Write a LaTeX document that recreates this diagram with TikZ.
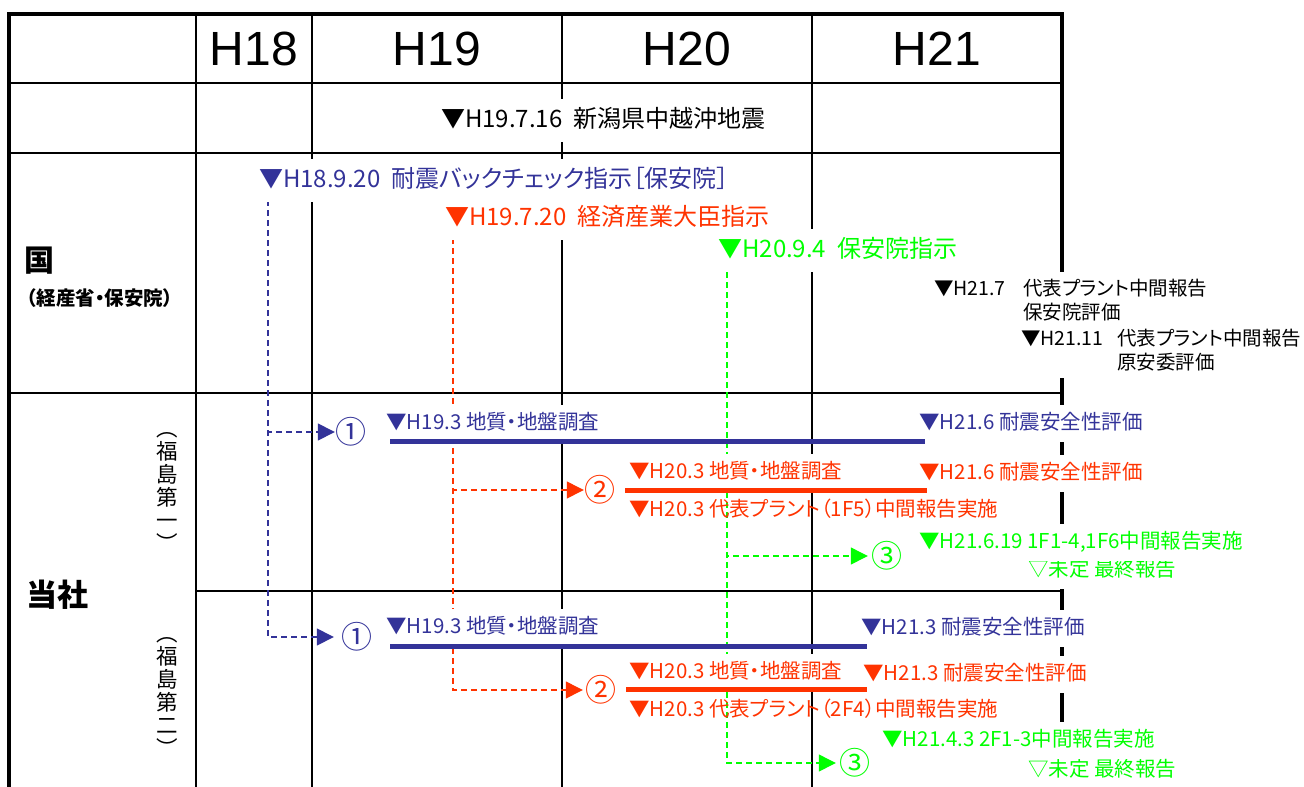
\documentclass[tikz,border=0pt]{standalone}
\usepackage{fontspec}
\setmainfont{Liberation Sans}
\newfontfamily\jp[RawFeature={+palt}]{Noto Sans CJK JP}
\usetikzlibrary{arrows.meta}
\definecolor{cblue}{HTML}{333399}
\definecolor{cred}{HTML}{FF3300}
\definecolor{cgreen}{HTML}{00FF00}
\begin{document}
\begin{tikzpicture}[x=1pt,y=-1pt,
  fr/.style={line width=4pt,line cap=rect},
  colline/.style={line width=2pt},
  rowline/.style={line width=2.5pt},
  hdr/.style={font=\fontsize{48}{48}\selectfont},
  tA/.style={anchor=west,font=\jp\fontsize{24}{24}\selectfont,text height=19pt,text depth=5pt,inner ysep=9.5pt,inner xsep=1pt},
  tB/.style={anchor=west,font=\jp\fontsize{20.5}{20.5}\selectfont,text height=16pt,text depth=4pt,inner ysep=8.5pt,inner xsep=1pt},
  tC/.style={anchor=west,align=left,font=\jp\fontsize{19.5}{24}\selectfont,inner ysep=7pt,inner xsep=1pt,fill=white},
  wf/.style={fill=white},
  vtxt/.style={align=center,font=\jp\fontsize{21.5}{23}\selectfont,inner sep=0pt},
  circ/.style={font=\jp\fontsize{31}{31}\selectfont,inner sep=0pt},
  dsh/.style={dash pattern=on 6pt off 4pt},
  tipA/.style={-{Triangle[length=17pt,width=17pt]}},
  bconn/.style={draw=cblue,line width=1.5pt,dsh,tipA},
  rconn/.style={draw=cred,line width=1.3pt,dsh,tipA},
  gconn/.style={draw=cgreen,line width=1.2pt,dsh,tipA},
  bbar/.style={draw=cblue,line width=5pt},
  rbar/.style={draw=cred,line width=5pt}
]
\useasboundingbox (0,0) rectangle (1304,787);
% grid
\draw[rowline] (9,83) -- (1062,83);
\draw[rowline] (9,153) -- (1062,153);
\draw[rowline] (9,393) -- (1062,393);
\draw[rowline] (196,591) -- (1062,591);
\foreach \x in {196,312,562,812} \draw[colline] (\x,14) -- (\x,787);
\draw[fr] (9,787) -- (9,14) -- (1062,14) -- (1062,787);
% header
\node[hdr] (h18) at (254,49) {H18};
\node[hdr] (h19) at (437,49) {H19};
\node[hdr] (h20) at (687,49) {H20};
\node[hdr] (h21) at (937,49) {H21};
% left column
\node[font=\jp\bfseries\fontsize{30}{30}\selectfont,inner sep=0pt] (kuni) at (39.5,261) {国};
\node[font=\jp\bfseries\fontsize{19.5}{19.5}\selectfont,inner sep=0pt] (kunisub) at (100,298) {（経産省・保安院）};
\node[font=\jp\bfseries\fontsize{31}{31}\selectfont,inner sep=0pt] (tosha) at (58,595) {当社};
\node[vtxt] (f1) at (167,492) {︵\\福\\島\\第\\一\\︶};
\node[vtxt] (f2) at (167,697) {︵\\福\\島\\第\\二\\︶};
% start points
\coordinate (bs) at (268,190);
\coordinate (rs) at (453,238);
\coordinate (gs) at (727,272);
% circled numbers
\node[circ,text=cblue] (n1a) at (350.5,432) {①};
\node[circ,text=cblue] (n1b) at (356.5,637) {①};
\node[circ,text=cred] (n2a) at (599.5,490) {②};
\node[circ,text=cred] (n2b) at (600.5,690) {②};
\node[circ,text=cgreen] (n3a) at (886.5,556) {③};
\node[circ,text=cgreen] (n3b) at (854.5,763) {③};
% connectors
\draw[bconn] (bs) |- (n1a);
\draw[bconn,shorten >=7pt] (bs) |- (n1b);
\draw[rconn] (rs) |- (n2a);
\draw[rconn,shorten >=2pt] (rs) |- (n2b);
\draw[gconn,shorten >=3pt] (gs) |- (n3a);
\draw[gconn,shorten >=3pt] (gs) |- (n3b);
% upper labels
\node[tA,wf] (ev) at (440,120) {▼H19.7.16\ \ 新潟県中越沖地震};
\node[tA,wf,text=cblue] (L1) at (258,180) {▼H18.9.20\ \ 耐震バックチェック指示［保安院］};
\node[tA,wf,text=cred] (L2) at (444,218) {▼H19.7.20\ \ 経済産業大臣指示};
\node[tA,wf,text=cgreen] (L3) at (717,250) {▼H20.9.4\ \ 保安院指示};
\node[tC] (k1) at (933,300) {\makebox[89pt][l]{▼H21.7}代表プラント中間報告\\\hspace*{89pt}保安院評価};
\node[tC] (k2) at (1020,350) {\makebox[96pt][l]{▼H21.11}代表プラント中間報告\\\hspace*{96pt}原安委評価};
% lower labels (Fukushima I)
\node[tB,wf,text=cblue] (a1) at (385,423) {▼H19.3 地質・地盤調査};
\node[tB,wf,text=cblue] (a2) at (918,423) {▼H21.6 耐震安全性評価};
\node[tB,wf,text=cred] (a3) at (628,472) {▼H20.3 地質・地盤調査};
\node[tB,wf,text=cred] (a4) at (918,473) {▼H21.6 耐震安全性評価};
\node[tB,text=cred] (a5) at (628,510) {▼H20.3 代表プラント（1F5）中間報告実施};
\node[tB,wf,text=cgreen] (a7) at (1027,570) {▽未定 最終報告};
\node[tB,wf,text=cgreen] (a6) at (918,542) {▼H21.6.19 1F1-4,1F6中間報告実施};
% lower labels (Fukushima II)
\node[tB,wf,text=cblue] (b1) at (385,627) {▼H19.3 地質・地盤調査};
\node[tB,wf,text=cblue] (b2) at (860,628) {▼H21.3 耐震安全性評価};
\node[tB,wf,text=cred] (b3) at (628,672) {▼H20.3 地質・地盤調査};
\node[tB,wf,text=cred] (b4) at (862,674) {▼H21.3 耐震安全性評価};
\node[tB,text=cred] (b5) at (628,710) {▼H20.3 代表プラント（2F4）中間報告実施};
\node[tB,wf,text=cgreen] (b7) at (1027,770) {▽未定 最終報告};
\node[tB,wf,text=cgreen] (b6) at (881,740) {▼H21.4.3 2F1-3中間報告実施};
% bars
\coordinate (ba1) at (390,441); \coordinate (bb1) at (925,441);
\coordinate (ra1) at (625,490); \coordinate (rb1) at (927,490);
\coordinate (ba2) at (390,646); \coordinate (bb2) at (867,646);
\coordinate (ra2) at (626,689); \coordinate (rb2) at (867,689);
\draw[bbar] (ba1) -- (bb1);
\draw[rbar] (ra1) -- (rb1);
\draw[bbar] (ba2) -- (bb2);
\draw[rbar] (ra2) -- (rb2);
\end{tikzpicture}
\end{document}
